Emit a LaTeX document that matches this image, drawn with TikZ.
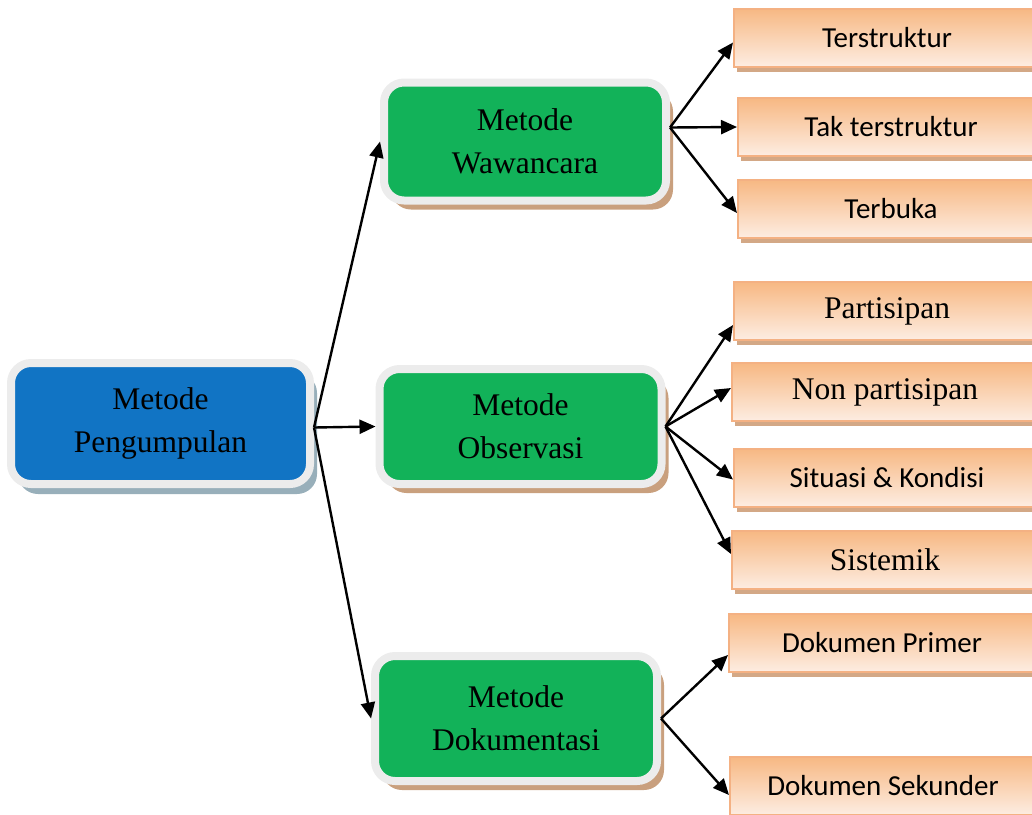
\documentclass[tikz,border=0pt]{standalone}
\usepackage{fontspec}
\setmainfont{Liberation Serif}
\newfontfamily\calibri{Carlito}
\usepackage{xcolor}
\usepackage{tikz}
\usetikzlibrary{arrows.meta,shadows}

\definecolor{rim}{HTML}{ECECEC}
\definecolor{kblue}{HTML}{1174C4}
\definecolor{kblueshade}{HTML}{98AFBA}
\definecolor{kgreen}{HTML}{12B259}
\definecolor{kgreenshade}{HTML}{C9A07E}
\definecolor{ortop}{HTML}{F7B883}
\definecolor{orbot}{HTML}{FDEDE2}
\definecolor{orline}{HTML}{F4B183}
\definecolor{orshade}{HTML}{D3A886}

\begin{document}
\begin{tikzpicture}[x=0.5pt,y=-0.5pt]
\useasboundingbox (0,0) rectangle (1032,814);
\begin{scope}[every node/.style={rectangle,rounded corners=10pt,draw=rim,line width=4pt,
              align=center,inner sep=0pt,minimum width=141pt,minimum height=59pt,
              font=\fontsize{15.75}{21.5}\selectfont}]
    \node[fill=kblue,minimum width=149.5pt,minimum height=60.5pt,
          drop shadow={shadow xshift=3.5pt,shadow yshift=-5pt,fill=kblueshade,opacity=1}]
          (kumpul) at (160.5,423.5) {Metode\\Pengumpulan};
    \node[fill=kgreen,drop shadow={shadow xshift=3.5pt,shadow yshift=-4.5pt,fill=kgreenshade,opacity=1}]
          (wawan) at (525,141.5) {Metode\\Wawancara};
    \node[fill=kgreen,minimum height=57.5pt,
          drop shadow={shadow xshift=3.5pt,shadow yshift=-4.5pt,fill=kgreenshade,opacity=1}]
          (obs) at (520.5,426.5) {Metode\\Observasi};
    \node[fill=kgreen,minimum height=62.5pt,
          drop shadow={shadow xshift=3.5pt,shadow yshift=-4.5pt,fill=kgreenshade,opacity=1}]
          (dok) at (516,718.5) {Metode\\Dokumentasi};
\end{scope}
\begin{scope}[every node/.style={rectangle,draw=orline,line width=1pt,top color=ortop,bottom color=orbot,
              inner sep=0pt,minimum width=153pt,minimum height=29pt,
              font=\calibri\fontsize{14.5}{17}\selectfont,
              drop shadow={shadow xshift=1.5pt,shadow yshift=-2.5pt,fill=orshade,opacity=1}},
              serif/.style={font=\rmfamily\fontsize{15.75}{18}\selectfont}]
    \node (ter1) at (887,37.5) {Terstruktur};
    \node (ter2) at (891,127) {Tak terstruktur};
    \node (ter3) at (891,209) {Terbuka};
    \node[serif] (obs1) at (887,311) {Partisipan};
    \node[serif] (obs2) at (885,392) {Non partisipan};
    \node (obs3) at (887,477.5) {Situasi \& Kondisi};
    \node[serif] (obs4) at (885,560) {Sistemik};
    \node (dok1) at (882,643) {Dokumen Primer};
    \node (dok2) at (883,786) {Dokumen Sekunder};
\end{scope}
\begin{scope}[>={Triangle[length=8pt,width=7pt]},
              every edge/.style={draw=black,line width=1.2pt}]
    \path [->] ([yshift=-2pt]kumpul.east) edge (wawan.west);
    \path [->] ([yshift=-2pt]kumpul.east) edge (obs.west);
    \path [->] ([yshift=-2pt]kumpul.east) edge (dok.west);
    \path [->] ([yshift=7pt]wawan.east) edge ([yshift=-2.5pt]ter1.west);
    \path [->] ([yshift=7pt]wawan.east) edge (ter2.west);
    \path [->] ([yshift=7pt]wawan.east) edge ([yshift=-2pt]ter3.west);
    \path [->] (obs.east) edge ([yshift=-7pt]obs1.west);
    \path [->] (obs.east) edge ([yshift=2pt]obs2.west);
    \path [->] (obs.east) edge ([yshift=-1pt]obs3.west);
    \path [->] (obs.east) edge ([yshift=3pt]obs4.west);
    \path [->] (dok.east) edge ([yshift=-6pt]dok1.west);
    \path [->] (dok.east) edge ([yshift=-4.5pt]dok2.west);
\end{scope}
\end{tikzpicture}
\end{document}
